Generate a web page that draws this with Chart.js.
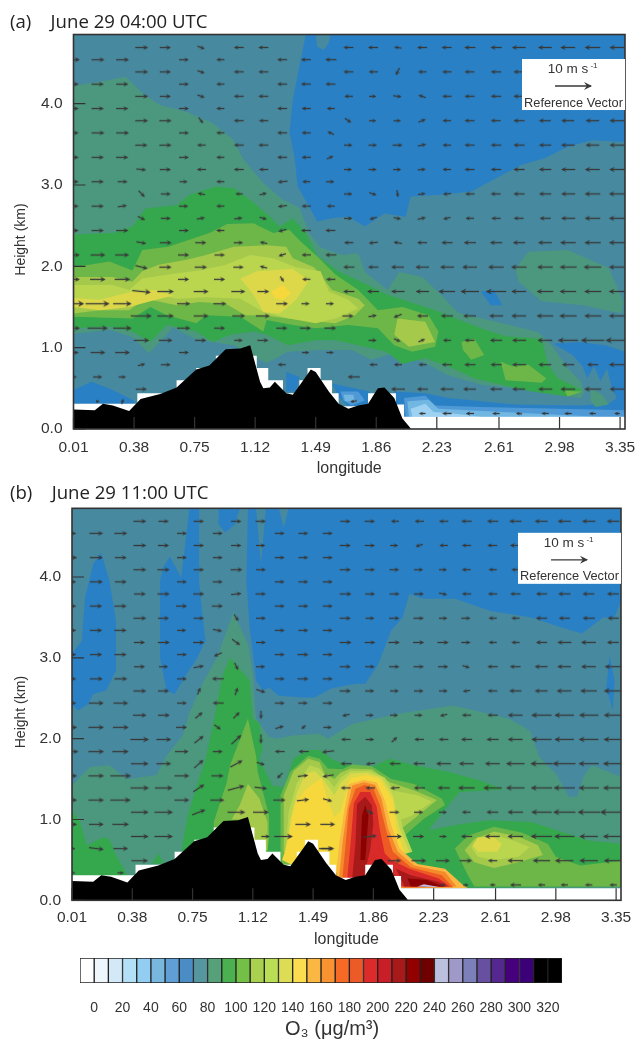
<!DOCTYPE html>
<html>
<head>
<meta charset="utf-8">
<script src="https://cdn.jsdelivr.net/npm/chart.js@4"></script>
<style>
html,body{margin:0;padding:0;background:#fff;overflow:hidden}
canvas{position:absolute;left:0}
</style>
</head>
<body>
<canvas id="chartA" width="635" height="480" style="top:0"></canvas>
<canvas id="chartB" width="635" height="480" style="top:470px"></canvas>
<canvas id="chartBar" width="635" height="93" style="top:950px"></canvas>
<script>
const lonTicks = [0.01,0.38,0.75,1.12,1.49,1.86,2.23,2.61,2.98,3.35]
const heightTicks = [0,1,2,3,4]
const barTicks = [0,20,40,60,80,100,120,140,160,180,200,220,240,260,280,300,320]
const barEdges = [-10,0,10,20,30,40,50,60,70,80,90,100,110,120,130,140,150,160,170,180,190,200,210,220,230,240,250,260,270,280,290,300,310,320,330]
const barColors = ["#ffffff","#eef7fb","#d3e9f8","#b3e0f7","#93cdf2","#78b8df","#609fd6","#4a8cc4","#55969f","#56a07a","#4bb050","#74bf45","#a9d04f","#b9dd55","#dcdd55","#fcdd50","#fab742","#f99230","#f66a26","#ec5a27","#dd2a2a","#c81e28","#a81a1a","#920000","#6e0000","#bcc0de","#9f99c9","#7b7fba","#66509f","#54288e","#46007e","#3b0078","#000000","#000000"]

// wind grid, two staggered sets of rows. a number is u, a pair is [u,w] in m/s
const lonMain = [0.01,0.16,0.31,0.685,0.905,1.285,1.43,1.58]
const lonOff = [0.427,0.574,0.79,1.02,1.17,1.69,1.84,1.99,2.14,2.29,2.43,2.59,2.73,2.89,3.03,3.18,3.33]
const heightMain = [4.54,4.24,3.94,3.64,3.34,3.04,2.74,2.44,2.14,1.84,1.54,1.24,0.94,0.64,0.34]
const heightOff = [4.69,4.39,4.09,3.79,3.49,3.19,2.89,2.59,2.29,1.99,1.69,1.39,1.09,0.79,0.49,0.19]

const windMainA = [
[3.5,3.5,3.5,2.7,-2.2,-2.7,-2.7,-3],
[3,3.3,3.3,2.7,-2.2,-2.7,-2.7,-2.7],
[3,3.3,3.3,2.7,-2.2,-2.7,-2.5,-2.2],
[3,3.5,3.5,2.7,-2.2,-2.7,-2.5,[-1.8,0.8]],
[3,3.3,3.3,2.7,-2.2,-2.7,-2.5,[1.8,0.8]],
[3,3.3,2.7,2.2,-2.2,[-2.7,-0.3],-2.2,2.3],
[3,3.3,[2.5,0.4],2.5,-2.2,[-2.5,-0.3],-2.5,-2.2],
[3,3.3,3.3,2.7,-2.2,[-2.2,-0.6],-2.7,-2.7],
[3.5,4,3.8,3,2.8,[-2,-0.7],-2.5,-3],
[3.5,4.2,4.2,3,3,[1,-1.5],-2.2,-2.5],
[6,6.5,5,3.6,3.5,3.2,2.2,2.2],
[3.8,5.5,5,3.6,3,3,3,3.2],
[3,4,4,2.7,null,null,2,2],
[2,2.5,2,null,null,null,null,null],
[null,1,[0.5,1.5],null,null,null,null,null]
]
const windOffA = [
[3.5,3,[2,-0.7],-2.7,-2.7,-2.7,-2.7,[-2,0.3],-2.7,-2.7,-3,-3,-3.7,-3.7,-4,-4.2,-4],
[3.5,3,[2,-0.7],-2.7,-2.7,-2.7,-2.5,[-1,-2],-2.3,-2.5,-2.7,-2.8,-3,-3.3,-3.5,-3.7,-4],
[3.5,3,[2,-0.7],-2.7,-2.7,-2.3,2,[2.3,-0.3],[-2,0.7],-2.5,-2.7,-2.8,-3,-3.2,-3.5,-3.7,-4],
[3.5,3.3,[1.2,-1.6],-2.7,-2.5,[1.8,-1.2],2,2,[2,0.8],-2.3,-2.7,-2.7,-3,-3.2,-3.5,-3.7,-4],
[3.3,3.3,-2.3,-2.7,-2.7,2.3,2.3,2.7,[2.3,0.5],-2.3,-2.7,-2.8,-3,-3.3,-3.7,-3.7,-4],
[[2.7,-0.3],3,-2.5,-2.7,-2.5,2.2,2.2,2.2,[2.2,0.2],-2.3,-2.7,-2.8,-3,-3.3,-3.8,-4,-4.2],
[[1.7,-1.7],2.7,[-2,0.4],-2,[2,0.5],2.3,[2,-0.7],[0.3,-2],[2,0.3],[-2.2,-0.2],-2.5,-2.7,-3,-3.3,-3.8,-4.2,-4.3],
[[2,-1],2.7,[2.2,0.4],[2.2,0.3],[2,-0.6],2.3,[-2,-0.6],[2,-0.4],[2.2,0.5],[-2,-0.5],-2.3,-2.5,-2.7,-3,-3.8,-4.2,-4.3],
[[2.7,-0.5],3.2,3,2.5,[-2,0.4],-2.5,[-2.5,-0.3],[-2.3,0.4],-2.7,-3,-3.3,-3.3,-3.3,-3.7,-4.2,-4.4,-4.4],
[[3.3,-0.8],3.3,3.3,2.8,[-2,0.5],-3,-2.8,-3.5,-3.7,-3.8,-4,-4.2,-4.2,-4.2,-4.6,-4.8,-4.3],
[[5,-0.5],4.5,4,3.8,3.2,-3,-3.2,-3.6,-3.6,-4.5,-5,-5.5,-4,-4.5,-4.5,-4.6,-4.6],
[5.7,4.5,4,3.5,3.8,3,[2.2,0.4],[-2.2,-0.9],-3,-3.3,-3.5,-3.8,-4,-4.5,-4.7,-4.6,-4.6],
[4.2,3.7,3,2.3,3,null,2.2,[1.8,-0.8],[1.8,0.8],-2.2,-2.7,-3.3,-3.8,-4,-5.5,-6.3,-6.3],
[[2,0.5],2.7,null,null,null,null,-2.2,-2.2,-2.2,-2.8,-3,-3,-3.8,-3.5,-3.3,-3,-4.3],
[3,null,null,null,null,null,null,-3.8,-3,-3.6,-3.5,-3.3,-3.5,-3.8,-4,-4.6,-4],
[null,null,null,null,null,null,null,null,-1.8,-2.5,-2.2,-2,[-1.7,0.2],-2,-2,-1.8,-1.5]
]
const windExtraA = [[1.28,0.79,-2.2,0],[1.72,0.64,-3.3,0],[1.72,0.34,-1.8,-0.3]]

const windMainB = [
[2.5,3.7,3.5,2.7,2.7,2.7,2.7,2.7],
[3,3.5,3.2,2.7,2.7,2.7,2.7,2.7],
[2.5,3.5,3.2,2.7,2.7,2.7,2.7,2.7],
[2.5,3.3,3.3,3,3,2.7,2.7,2.7],
[2.5,3.3,3.3,2.5,[2.5,-0.5],2.7,2.7,2.7],
[2.5,3.3,3.3,2.7,[-2.2,-1],2.7,3,2.7],
[2.5,3.5,3.5,2.7,-3.2,2.7,3,2.7],
[2.5,4,4,2.7,-3,2.7,2.5,2.7],
[3,4.2,4.3,3,[1.8,-1.3],[2.3,0.7],[-1.2,-1],2.3],
[3.5,4.2,4.4,3.7,2.7,-2.7,-2.8,[-3.3,-0.4]],
[3,4.2,5.6,4,3.3,[-1.5,-1.5],[2.8,0.3],[-3,-0.5]],
[3,4.2,5.5,4,3.8,3.3,[3.3,0.4],[2.5,-0.7]],
[3,4,4.5,null,null,null,4.2,4],
[2,[4,-0.5],4,null,null,null,null,3.5],
[2,null,1.8,null,null,null,null,null]
]
const windOffB = [
[3.5,2.8,2.8,2.8,2.8,2.8,2.8,-2.2,-2.5,-2.5,-2.8,-3,-3.3,-3.5,-3.6,-3.6,-3.4],
[3.5,3,2.8,2.8,2.5,3,2.8,2.2,[-2,-0.6],-2.3,-2.5,-2.7,-3,-3.3,-3.5,-3.6,-3.4],
[3.5,3.3,2.8,3.2,2.7,3,2.8,2.6,2.5,2.2,-2.4,-2.2,-2.2,-2.5,-3,-3.3,-3.4],
[3.2,3.3,3,[2.8,0.3],2.8,3.2,2.7,2.7,2.7,[2.2,-0.5],-2.5,-2.5,-2.8,-3,-3.3,-3.2,-3.2],
[3.5,3,2.8,[1.2,-1.8],2.7,3,2.4,2.8,2.8,2.3,2.5,-2.2,-2.2,-3,-3,-3.3,-3],
[3,3.2,3,[2.2,-1.6],2.7,3.2,2.9,3,3,3,2.5,-2.2,-2.2,-3,-3.8,-4,-3.2],
[3,2.5,[2.8,0.5],[1,-2],2.5,3,2.6,2.8,2.8,2.8,[2,-0.6],-2.8,-2.9,-3.5,-3.7,-4,-4.5],
[3.5,3,[0.8,1.9],[0.7,2.1],[2.5,-0.8],3,2.5,2.4,2.6,2.4,[-2,-0.3],-2.6,-3.3,-3.5,-4,-4.5,-5],
[3.7,3.2,[2,1.7],[1.7,1.7],[0,-2.3],[-2,-0.5],2.2,2.2,2.2,[-2,-0.5],-2.5,-2.8,-4,-5.5,-5.3,-5.2,-5],
[5,4,[2.5,2],[2.7,2.5],[0,-2.5],-2.6,2.3,[1.5,1.4],-2.6,-2.6,-3,-3.3,-4,-5.5,-5.3,-5.3,-5.2],
[4.8,4,[2.5,2.2],[3.3,1.8],[2.2,-0.7],-3,[-2.5,-0.3],-3,-3.2,-4,-4,-4,-5,-6,-6.2,-5.5,-5.5],
[5,4.8,[3,2],[4.5,1.2],[3.4,-0.4],-2.7,-2.6,[-2.5,-0.2],-3,-3.3,-4.5,-5,-5,-5.8,-5.8,-5.5,-5.5],
[4.8,5,[3.6,1.4],4.8,4.3,null,[2,-1],2.7,2.5,2.2,-2.4,-3.2,-4.2,-5.5,-6,-6,-7],
[4.8,5,null,null,null,null,[3.7,0.4],4,3,2,-3,-4,-4.2,-5.8,-5.5,-5,-5.5],
[4.5,null,null,null,null,null,null,3.7,4,3.8,3.3,-2.5,-4.2,-4.7,-5,-5,-5],
[null,null,null,null,null,null,null,null,null,1.5,1.5,-1.5,-3,-2,-2,-2,-2]
]
const windExtraB = [[1.2,0.79,2.3,0],[1.31,0.79,5,0],[1.57,0.64,3.7,0]]

// terrain and the white staircase of the model grid, lon/km
const terrain = [[0.01,0],[0.01,0.24],[0.14,0.23],[0.19,0.31],[0.25,0.29],[0.35,0.22],[0.42,0.37],[0.54,0.43],[0.64,0.51],[0.76,0.73],[0.84,0.78],[0.94,0.98],[1.03,0.99],[1.09,1.03],[1.15,0.58],[1.17,0.5],[1.21,0.51],[1.24,0.58],[1.31,0.44],[1.35,0.42],[1.4,0.56],[1.46,0.73],[1.49,0.7],[1.57,0.46],[1.63,0.31],[1.69,0.25],[1.75,0.29],[1.81,0.31],[1.87,0.5],[1.91,0.51],[1.97,0.38],[2.02,0.13],[2.07,0.01],[2.07,0]]
const gridSteps = [[0.01,0.31],[0.4,0.31],[0.4,0.44],[0.64,0.44],[0.64,0.6],[0.76,0.6],[0.76,0.75],[0.88,0.75],[0.88,0.9],[1.13,0.9],[1.13,0.75],[1.2,0.75],[1.2,0.6],[1.29,0.6],[1.29,0.44],[1.39,0.44],[1.39,0.6],[1.44,0.6],[1.44,0.75],[1.52,0.75],[1.52,0.6],[1.59,0.6],[1.59,0.44],[1.63,0.44],[1.63,0.28],[1.81,0.28],[1.81,0.44],[1.98,0.44],[1.98,0.3],[2.03,0.3],[2.03,0.15],[3.38,0.15],[3.38,0],[0.01,0]]
const fullPanel = [[0.01,0],[3.38,0],[3.38,4.85],[0.01,4.85]]

// panel (a) contours, lon/km
const a70Top = [[1.43,4.85],[1.39,4.46],[1.35,4.05],[1.33,3.64],[1.36,3.35],[1.38,2.98],[1.45,2.73],[1.5,2.55],[1.59,2.59],[1.69,2.61],[1.79,2.49],[1.91,2.65],[2.04,2.61],[2.07,2.86],[2.26,2.88],[2.44,2.92],[2.61,3.1],[2.75,3.25],[2.89,3.33],[3.03,3.47],[3.18,3.55],[3.38,3.53],[3.38,4.85]]
const a80Notch = [[1.49,4.85],[1.58,4.85],[1.57,4.75],[1.54,4.66],[1.5,4.7]]
const a70Spot = [[2.5,1.69],[2.58,1.71],[2.63,1.52],[2.56,1.52]]
const a70Low = [[2.94,1.05],[3.1,1.07],[3.26,1.03],[3.38,0.95],[3.38,0.15],[1.97,0.15],[1.97,0.46],[2.16,0.44],[2.3,0.38],[2.71,0.3],[3.1,0.29],[3.28,0.31],[3.33,0.38],[3.3,0.5],[3.27,0.74],[3.23,0.59],[3.19,0.77],[3.15,0.62],[3.12,0.77],[3.06,0.91]]
const a60Low = [[2.03,0.38],[2.16,0.41],[2.22,0.29],[2.5,0.27],[3.38,0.23],[3.38,0.15],[2.04,0.15]]
const a50Low = [[2.05,0.34],[2.18,0.36],[2.24,0.25],[2.63,0.21],[3.22,0.15],[2.06,0.15]]
const a40Low = [[2.07,0.25],[2.16,0.31],[2.21,0.21],[2.33,0.19],[2.5,0.15],[2.08,0.15]]
const a70Gap = [[1.59,0.56],[1.82,0.46],[1.81,0.31],[1.69,0.27],[1.63,0.4]]
const a60Gap = [[1.64,0.46],[1.75,0.46],[1.79,0.35],[1.71,0.29],[1.66,0.35]]
const a50Gap = [[1.66,0.42],[1.72,0.42],[1.73,0.34],[1.67,0.34]]
const a70Left = [[0.01,0.48],[0.12,0.58],[0.25,0.48],[0.37,0.36],[0.39,0.31],[0.01,0.31]]
const a70Mid = [[1.31,0.7],[1.39,0.64],[1.37,0.46],[1.31,0.46]]
const a90 = [[0.01,4.22],[0.17,4.27],[0.33,4.33],[0.43,4.13],[0.54,3.98],[0.7,3.9],[0.86,3.76],[0.99,3.55],[1.05,3.31],[1.17,3.02],[1.29,2.82],[1.39,2.72],[1.45,2.41],[1.52,2.23],[1.65,2.14],[1.75,2.16],[1.79,1.93],[1.93,1.71],[2,1.93],[2.14,1.87],[2.24,1.68],[2.36,1.43],[2.63,1.3],[2.85,1.19],[2.93,1.03],[3.03,0.75],[3.11,0.58],[3.13,0.45],[3.11,0.38],[2.91,0.45],[2.71,0.5],[2.51,0.54],[2.3,0.66],[2.16,0.81],[1.99,0.95],[1.83,0.85],[1.71,0.97],[1.52,0.97],[1.32,0.95],[1.19,0.81],[1.13,0.87],[0.99,1.03],[0.86,1.07],[0.74,1.12],[0.62,1.25],[0.56,1.12],[0.47,0.93],[0.37,1.13],[0.23,1.22],[0.01,1.17]]
const a90Patch = [[3.17,0.5],[3.24,0.42],[3.28,0.3],[3.2,0.27],[3.17,0.35]]
const a90Right = [[2.71,1.97],[2.79,2.18],[3.03,2.2],[3.28,1.98],[3.37,1.57],[3.36,1.42],[3.12,1.52],[2.87,1.57],[2.73,1.81]]
const a100 = [[0.01,2.39],[0.25,2.41],[0.37,2.49],[0.45,2.71],[0.64,2.75],[0.72,2.88],[0.88,2.98],[0.99,2.96],[1.09,2.82],[1.21,2.61],[1.27,2.49],[1.35,2.59],[1.43,2.41],[1.5,2.13],[1.63,1.94],[1.79,1.79],[1.93,1.65],[2.22,1.46],[2.32,1.38],[2.5,1.24],[2.65,1.14],[2.87,1.11],[2.91,0.79],[2.97,0.62],[3.12,0.48],[3.03,0.4],[2.81,0.46],[2.63,0.54],[2.46,0.62],[2.3,0.77],[2.16,0.87],[2.02,0.8],[1.92,0.95],[1.79,1.01],[1.61,1.09],[1.49,1.09],[1.32,1.03],[1.19,1.16],[1.11,1.2],[0.97,1.16],[0.86,1.07],[0.76,1.2],[0.58,1.28],[0.48,1.07],[0.37,1.2],[0.23,1.26],[0.01,1.24]]
const a110 = [[0.01,1.99],[0.23,2.06],[0.37,1.95],[0.43,2.2],[0.59,2.24],[0.84,2.41],[0.95,2.52],[1.11,2.53],[1.23,2.41],[1.33,2.45],[1.39,2.32],[1.5,2.12],[1.61,1.9],[1.75,1.71],[1.87,1.46],[2.02,1.5],[2.18,1.4],[2.24,1.2],[2.22,1.01],[2.08,0.95],[1.97,1.03],[1.87,1.24],[1.69,1.28],[1.49,1.24],[1.35,1.28],[1.19,1.34],[1.17,1.2],[1.03,1.38],[0.82,1.4],[0.76,1.3],[0.58,1.4],[0.48,1.5],[0.37,1.36],[0.01,1.38]]
const a110Spot1 = [[2.38,1.07],[2.46,1.11],[2.52,0.91],[2.44,0.85],[2.39,0.97]]
const a110Spot2 = [[2.62,0.83],[2.69,0.77],[2.79,0.79],[2.9,0.62],[2.87,0.57],[2.65,0.6]]
const a110Spot3 = [[3.01,0.47],[3.12,0.46],[3.03,0.4]]
const a120 = [[0.01,1.87],[0.25,1.87],[0.37,1.81],[0.43,1.94],[0.53,2.02],[0.7,2.08],[0.82,2.14],[0.99,2.24],[1.19,2.26],[1.31,2.24],[1.35,2.1],[1.48,1.99],[1.59,1.71],[1.75,1.6],[1.79,1.52],[1.73,1.4],[1.61,1.3],[1.39,1.34],[1.17,1.4],[1.06,1.4],[0.94,1.54],[0.78,1.56],[0.64,1.52],[0.45,1.6],[0.35,1.46],[0.17,1.46],[0.01,1.42]]
const a120Spot = [[1.99,1.36],[2.16,1.32],[2.22,1.07],[2.06,1.01],[1.97,1.16]]
const a130 = [[0.01,1.77],[0.25,1.77],[0.35,1.71],[0.43,1.85],[0.62,1.91],[0.78,1.95],[0.94,2.02],[1.09,2.14],[1.23,2.1],[1.37,1.99],[1.52,1.94],[1.57,1.69],[1.69,1.59],[1.75,1.48],[1.61,1.36],[1.49,1.3],[1.33,1.36],[1.17,1.44],[1.03,1.6],[0.82,1.62],[0.64,1.6],[0.48,1.67],[0.35,1.55],[0.17,1.5],[0.01,1.55]]
const a140Left = [[0.01,1.61],[0.17,1.59],[0.37,1.69],[0.51,1.71],[0.62,1.64],[0.48,1.57],[0.35,1.5],[0.17,1.46],[0.01,1.5]]
const a140Mid = [[1.03,1.85],[1.13,1.94],[1.35,1.97],[1.45,1.83],[1.37,1.59],[1.27,1.42],[1.17,1.44],[1.11,1.65]]
const a150 = [[1.22,1.69],[1.29,1.77],[1.34,1.67],[1.29,1.59],[1.24,1.61]]

// panel (b) contours, lon/km
const b70Left = [[0.19,4.3],[0.24,3.95],[0.28,3.46],[0.28,2.84],[0.22,2.6],[0.14,2.55],[0.11,2.43],[0.05,2.35],[0.01,2.41],[0.01,3.05],[0.07,3.21],[0.09,3.75],[0.14,4.16]]
const b70Mid = [[0.61,4.25],[0.68,4],[0.7,4.32],[0.73,4.85],[0.79,4.85],[0.79,3.95],[0.81,3.54],[0.83,3.21],[0.77,2.97],[0.7,2.76],[0.64,2.55],[0.59,2.6],[0.55,3],[0.55,3.95],[0.57,4.12]]
const b70Cap = [[0.91,4.85],[1.04,4.85],[1.01,4.65],[0.95,4.55],[0.91,4.65]]
const b70Top = [[1.09,4.85],[1.14,4.85],[1.17,4.16],[1.2,4.85],[1.28,4.85],[1.31,4.61],[1.34,4.85],[3.38,4.85],[3.38,3.7],[3.34,3.5],[3.27,3.5],[3.14,3.3],[3.01,3.38],[2.83,3.5],[2.58,3.58],[2.36,3.73],[2.17,3.73],[2.08,3.79],[2.04,3.5],[1.97,3.34],[1.89,2.92],[1.81,2.68],[1.75,2.68],[1.6,2.62],[1.5,2.51],[1.43,2.51],[1.28,2.53],[1.22,2.63],[1.18,2.6],[1.14,2.72],[1.1,3.38],[1.08,3.95]]
const b70Edge = [[3.31,3.03],[3.34,2.72],[3.33,2.35],[3.29,2.63]]
const b90 = [[1,3.56],[1.09,3.17],[1.12,2.79],[1.14,2.25],[1.22,2.02],[1.26,2],[1.37,2.04],[1.53,2.06],[1.58,2],[1.68,2.12],[1.73,2.18],[2.02,2.31],[2.35,2.41],[2.69,2.25],[2.82,2.1],[2.88,1.77],[2.98,1.57],[3.06,1.28],[3.11,1.28],[3.15,1.53],[3.2,1.67],[3.38,1.53],[3.38,0.15],[0.01,0.15],[0.01,1.42],[0.12,1.65],[0.24,1.67],[0.35,1.5],[0.53,1.55],[0.59,1.79],[0.69,2.04],[0.73,2.31],[0.81,2.68],[0.9,3]]
const b100Left = [[0.01,1.1],[0.06,0.97],[0.1,0.68],[0.2,0.78],[0.24,0.76],[0.28,0.56],[0.34,0.35],[0.35,0.3],[0.01,0.3]]
const b100Spot = [[0.5,0.45],[0.54,0.58],[0.57,0.46]]
const b100 = [[0.98,3],[1.1,2.72],[1.12,2.25],[1.16,2.2],[1.18,1.88],[1.16,1.75],[1.24,1.42],[1.31,1.4],[1.37,1.75],[1.45,1.86],[1.53,1.86],[1.62,1.73],[1.68,1.69],[1.83,1.63],[1.96,1.75],[2.11,1.67],[2.32,1.59],[2.52,1.48],[2.66,1.37],[2.39,1.34],[2.31,1.15],[2.2,0.87],[2.42,0.95],[2.57,0.99],[2.83,0.97],[3.03,0.84],[3.18,0.74],[3.38,0.7],[3.38,0.17],[2.03,0.15],[0.68,0.5],[0.69,0.72],[0.72,1.05],[0.77,1.38],[0.83,1.75],[0.89,2.31],[0.93,2.76]]
const b110Spike = [[1.09,2.25],[1.14,1.79],[1.15,1.59],[1.22,1.05],[1.22,0.76],[1.2,0.5],[1.1,0.5],[0.88,0.85],[0.88,0.97],[0.96,1.46],[0.98,1.67]]
const b120Spike = [[1.09,1.44],[1.16,1.26],[1.21,0.97],[1.21,0.62],[1.14,0.62],[1.06,1],[0.99,1],[1.04,1.18]]
const b110Hump = [[1.29,1.3],[1.35,1.59],[1.46,1.79],[1.53,1.75],[1.58,1.63],[1.67,1.62],[1.73,1.68],[1.85,1.66],[1.97,1.5],[2.11,1.44],[2.28,1.26],[2.3,1.18],[2.17,1.01],[2.05,0.8],[2,0.5],[1.9,0.4],[1.3,0.4],[1.29,0.64]]
const b110Low = [[2.36,0.64],[2.44,0.8],[2.6,0.91],[2.77,0.84],[2.93,0.7],[2.98,0.54],[3.13,0.43],[3.38,0.49],[3.38,0.17],[2.48,0.17],[2.44,0.31]]
const b120Hump = [[1.31,1.3],[1.37,1.6],[1.46,1.75],[1.53,1.71],[1.56,1.57],[1.62,1.5],[1.66,1.58],[1.72,1.63],[1.85,1.62],[1.96,1.46],[2.11,1.36],[2.25,1.24],[2.11,1.01],[2.01,0.85],[2,0.6],[1.4,0.4],[1.31,0.6]]
const b120Low = [[2.42,0.62],[2.48,0.76],[2.6,0.85],[2.75,0.79],[2.87,0.68],[2.9,0.56],[2.75,0.47],[2.6,0.4],[2.48,0.47]]
const b130Low = [[2.46,0.66],[2.52,0.78],[2.62,0.8],[2.72,0.74],[2.82,0.66],[2.75,0.54],[2.6,0.5],[2.5,0.54]]
const b140Low = [[2.47,0.68],[2.5,0.78],[2.6,0.78],[2.65,0.7],[2.62,0.6],[2.5,0.6]]
const b130Blob = [[1.98,1.36],[2.13,1.3],[2.22,1.22],[2.09,1.04],[2,0.98],[1.95,1.1]]
const b130Hump = [[1.32,0.6],[1.34,1.1],[1.39,1.45],[1.47,1.67],[1.53,1.63],[1.58,1.5],[1.62,1.4],[1.66,1.52],[1.72,1.6],[1.84,1.6],[1.93,1.52],[2,1.3],[2.04,0.9],[2.1,0.6],[1.7,0.35]]
const b140Hump = [[1.33,0.6],[1.35,1.0],[1.39,1.32],[1.44,1.56],[1.5,1.6],[1.56,1.48],[1.62,1.3],[1.66,1.45],[1.72,1.57],[1.82,1.58],[1.91,1.52],[1.98,1.3],[2.02,0.9],[2.08,0.6],[1.7,0.35]]
const b150Hump = [[1.3,0.5],[1.32,0.62],[1.38,1.2],[1.45,1.38],[1.54,1.51],[1.58,1.24],[1.62,1.03],[1.66,1.1],[1.69,1.32],[1.72,1.51],[1.82,1.55],[1.9,1.5],[1.98,1.24],[2,0.9],[2.05,0.6],[1.8,0.3],[1.4,0.4]]
const b160 = [[1.63,0.28],[1.65,0.7],[1.68,1.1],[1.71,1.44],[1.8,1.49],[1.88,1.46],[1.93,1.24],[1.97,0.93],[2.02,0.64],[2.13,0.45],[2.3,0.39],[2.41,0.19],[2.44,0.15],[2.03,0.15]]
const b170 = [[1.65,0.28],[1.67,0.7],[1.7,1.14],[1.73,1.42],[1.8,1.46],[1.87,1.43],[1.91,1.26],[1.95,0.89],[2.01,0.6],[2.11,0.43],[2.3,0.35],[2.37,0.17],[2.04,0.15]]
const b180 = [[1.67,0.28],[1.69,0.7],[1.71,1.14],[1.75,1.38],[1.81,1.43],[1.86,1.38],[1.9,1.18],[1.94,0.85],[1.98,0.6],[2.09,0.41],[2.28,0.31],[2.35,0.16],[2.05,0.16]]
const b200 = [[1.7,0.28],[1.72,0.7],[1.74,1.2],[1.78,1.34],[1.84,1.34],[1.88,1.16],[1.9,0.87],[1.93,0.58],[1.97,0.5],[2.08,0.39],[2.26,0.27],[2.33,0.17],[2.05,0.17]]
const b220Flame = [[1.73,0.28],[1.75,0.7],[1.76,1.19],[1.81,1.28],[1.85,1.18],[1.86,0.95],[1.84,0.62],[1.8,0.28]]
const b220Foot = [[2,0.39],[2.09,0.31],[2.26,0.23],[2.31,0.17],[2.05,0.17]]
const b240Flame = [[1.78,0.5],[1.79,1.05],[1.81,1.18],[1.83,1.05],[1.81,0.5]]
const b240Foot = [[2.07,0.27],[2.19,0.25],[2.29,0.17],[2.09,0.17]]
const b250 = [[2.13,0.17],[2.17,0.2],[2.27,0.16]]

const cTeal = "#47899f", cBlue = "#2a80c4", c60 = "#4f9ad6", c50 = "#72b6e2", c40 = "#9dd2f2"
const c90 = "#4c987f", c100 = "#35a74d", c110 = "#6db648", c120 = "#a5c94b", c130 = "#bad54e", c140 = "#dcd84a", c150 = "#f6d83d"
const c160 = "#fab742", c170 = "#f58a2a", c180 = "#ee5a24", c200 = "#d92a2a", c220 = "#a81a1a", c240 = "#8b0000", c250 = "#bcc0de"

// painter's order, first one is at the back
const layersA = [[fullPanel,cTeal],[a70Top,cBlue],[a80Notch,cTeal],[a70Spot,cBlue],[a70Low,cBlue],[a60Low,c60],[a50Low,c50],[a40Low,c40],[a70Gap,cBlue],[a60Gap,c60],[a50Gap,c50],[a70Left,cBlue],[a70Mid,cBlue],[a90,c90],[a90Patch,c90],[a90Right,c90],[a100,c100],[a110,c110],[a110Spot1,c110],[a110Spot2,c110],[a110Spot3,c110],[a120,c120],[a120Spot,c120],[a130,c130],[a140Left,c140],[a140Mid,c140],[a150,c150]]
const layersB = [[fullPanel,cTeal],[b70Left,cBlue],[b70Mid,cBlue],[b70Cap,cBlue],[b70Top,cBlue],[b70Edge,cBlue],[b90,c90],[b100Left,c100],[b100Spot,c100],[b100,c100],[b110Spike,c110],[b120Spike,c120],[b110Hump,c110],[b110Low,c110],[b120Hump,c120],[b120Low,c120],[b130Low,c130],[b140Low,c140],[b130Blob,c130],[b130Hump,c130],[b140Hump,c140],[b150Hump,c150],[b160,c160],[b170,c170],[b180,c180],[b200,c200],[b220Flame,c220],[b220Foot,c220],[b240Flame,c240],[b240Foot,c240],[b250,c250]]

const pxPerMs = 3.7
const arrowColor = "#383838"

function arrowCanvas(len){
  const c = document.createElement("canvas")
  c.width = Math.ceil(len) + 2
  c.height = 11
  const g = c.getContext("2d")
  drawArrow(g, 1, len + 1, 5.5, len)
  return c
}

function drawArrow(g, x0, x1, y, len){
  const h = Math.min(8, 3.5 + len*0.12)
  const w = Math.min(4, 1.6 + len*0.07)
  g.strokeStyle = arrowColor
  g.fillStyle = arrowColor
  g.lineWidth = 1.3
  g.beginPath()
  g.moveTo(x0, y)
  g.lineTo(x1 - 1, y)
  g.stroke()
  g.beginPath()
  g.moveTo(x1, y)
  g.lineTo(x1 - h, y - w)
  g.lineTo(x1 - h*0.65, y)
  g.lineTo(x1 - h, y + w)
  g.closePath()
  g.fill()
}

function buildArrows(rows, lons, heights, extra){
  const pts = []
  rows.forEach((row,i)=>{
    row.forEach((cell,j)=>{
      if(cell === null) return
      const u = Array.isArray(cell) ? cell[0] : cell
      const w = Array.isArray(cell) ? cell[1] : 0
      pts.push({x:lons[j], y:heights[i], u:u, w:w})
    })
  })
  extra.forEach(e=>pts.push({x:e[0], y:e[1], u:e[2], w:e[3]}))
  return pts
}

function polyDataset(poly, color){
  return {
    type:"scatter",
    data:poly.map(p=>({x:p[0], y:p[1]})),
    showLine:true,
    fill:"shape",
    backgroundColor:color,
    borderWidth:0,
    pointRadius:0,
    tension:0
  }
}

function arrowDataset(points){
  const imgs = points.map(p=>arrowCanvas(Math.hypot(p.u,p.w)*pxPerMs))
  return {
    type:"scatter",
    data:points,
    showLine:false,
    pointRadius:1,
    pointBorderWidth:0,
    pointStyle:(ctx)=>imgs[ctx.dataIndex],
    pointRotation:(ctx)=>{
      const p = points[ctx.dataIndex]
      return -Math.atan2(p.w,p.u)*180/Math.PI
    }
  }
}

// ticks point inwards here and the frame sits on top of the fill
const framePlugin = {
  id:"frameTicks",
  afterDatasetsDraw(chart){
    const g = chart.ctx, a = chart.chartArea
    g.save()
    g.strokeStyle = "#333"
    g.lineWidth = 1.2
    g.beginPath()
    lonTicks.forEach(v=>{
      const x = chart.scales.x.getPixelForValue(v)
      g.moveTo(x, a.bottom)
      g.lineTo(x, a.bottom - 12)
    })
    heightTicks.forEach(v=>{
      const y = chart.scales.y.getPixelForValue(v)
      g.moveTo(a.left, y)
      g.lineTo(a.left + 12, y)
    })
    g.stroke()
    g.lineWidth = 1.6
    g.strokeRect(a.left, a.top, a.right - a.left, a.bottom - a.top)
    g.restore()
  }
}

const refBoxPlugin = {
  id:"refBox",
  afterDatasetsDraw(chart){
    const g = chart.ctx, a = chart.chartArea
    const w = 103, h = 51, x = a.right - w, y = a.top + 24.5
    g.save()
    g.fillStyle = "#fff"
    g.fillRect(x, y, w, h)
    g.fillStyle = "#333"
    g.textAlign = "center"
    g.textBaseline = "middle"
    g.font = "13.5px 'Liberation Sans'"
    g.fillText("10 m s", x + 46, y + 10)
    g.font = "8px 'Liberation Sans'"
    g.fillText("-1", x + 72, y + 7)
    g.font = "12.8px 'Liberation Sans'"
    g.fillText("Reference Vector", x + 51.5, y + 44)
    drawArrow(g, x + 33, x + 33 + 10*pxPerMs, y + 27, 50)
    g.restore()
  }
}

function panelChart(id, layers, arrows, label, cfg){
  const polys = layers.concat([[gridSteps,"#ffffff"],[terrain,"#000000"]]).map(l=>polyDataset(l[0],l[1]))
  polys.push(arrowDataset(arrows))
  polys.forEach((d,i)=>{ d.order = polys.length - i })
  return new Chart(document.getElementById(id),{
    data:{datasets:polys},
    plugins:[framePlugin,refBoxPlugin],
    options:{
      responsive:false,
      animation:false,
      events:[],
      layout:{padding:{left:10,right:cfg.right,top:0,bottom:0}},
      plugins:{
        legend:{display:false},
        tooltip:{enabled:false},
        title:{
          display:true,
          text:label,
          align:"start",
          color:"#222",
          font:{family:"'Open Sans'",size:18.6,weight:"normal",lineHeight:1.2},
          padding:{top:cfg.titleTop,bottom:cfg.titleBottom}
        }
      },
      scales:{
        x:{
          type:"linear",
          min:0.01,
          max:3.38,
          afterBuildTicks(s){ s.ticks = lonTicks.map(v=>({value:v})) },
          afterFit(s){ s.height = cfg.xHeight; s.paddingRight = 0; s.paddingLeft = 0 },
          grid:{display:false,drawTicks:false},
          border:{display:false},
          ticks:{color:"#333",padding:cfg.xPad,maxRotation:0,autoSkip:false,font:{family:"'Liberation Sans'",size:15.5},callback:v=>v.toFixed(2)},
          title:{display:true,text:"longitude",color:"#333",font:{family:"'Liberation Sans'",size:16},padding:{top:0,bottom:cfg.xTitlePad}}
        },
        y:{
          type:"linear",
          min:0,
          max:4.85,
          afterBuildTicks(s){ s.ticks = heightTicks.map(v=>({value:v})) },
          afterFit(s){ s.width = cfg.yWidth },
          grid:{display:false,drawTicks:false},
          border:{display:false},
          ticks:{color:"#333",padding:11,font:{family:"'Liberation Sans'",size:15.5},callback:v=>v.toFixed(1)},
          title:{display:true,text:"Height (km)    ",color:"#333",font:{family:"'Liberation Sans'",size:14},padding:{top:3,bottom:0}}
        }
      }
    }
  })
}

panelChart("chartA", layersA,
  buildArrows(windMainA,lonMain,heightMain,[]).concat(buildArrows(windOffA,lonOff,heightOff,windExtraA)),
  "(a)    June 29 04:00 UTC",
  {right:10,titleTop:11.5,titleBottom:0.7,xHeight:51,xPad:9,xTitlePad:2,yWidth:63.5})

panelChart("chartB", layersB,
  buildArrows(windMainB,lonMain,heightMain,[]).concat(buildArrows(windOffB,lonOff,heightOff,windExtraB)),
  "(b)    June 29 11:00 UTC",
  {right:14,titleTop:13,titleBottom:3,xHeight:49.7,xPad:8,xTitlePad:0.5,yWidth:62})

new Chart(document.getElementById("chartBar"),{
  type:"bar",
  data:{
    labels:["O3"],
    datasets:barColors.map((col,i)=>({
      data:[[barEdges[i],barEdges[i+1]]],
      backgroundColor:col,
      borderColor:"#222",
      borderWidth:1,
      borderSkipped:false,
      barPercentage:1,
      categoryPercentage:1,
      grouped:false
    }))
  },
  options:{
    indexAxis:"y",
    responsive:false,
    animation:false,
    events:[],
    layout:{padding:{left:80,right:73,top:8,bottom:0}},
    plugins:{legend:{display:false},tooltip:{enabled:false}},
    scales:{
      y:{display:false,grid:{display:false}},
      x:{
        type:"linear",
        min:-10,
        max:330,
        afterBuildTicks(s){ s.ticks = barTicks.map(v=>({value:v})) },
        afterFit(s){ s.height = 60 },
        grid:{display:false,drawTicks:false},
        border:{display:false},
        ticks:{color:"#333",padding:17,maxRotation:0,autoSkip:false,font:{family:"'Liberation Sans'",size:14}},
        title:{display:true,text:"    O\u2083 (\u03bcg/m\u00b3)",color:"#333",font:{family:"'Liberation Sans'",size:20},padding:{top:0,bottom:2}}
      }
    }
  }
})
</script>
</body>
</html>
